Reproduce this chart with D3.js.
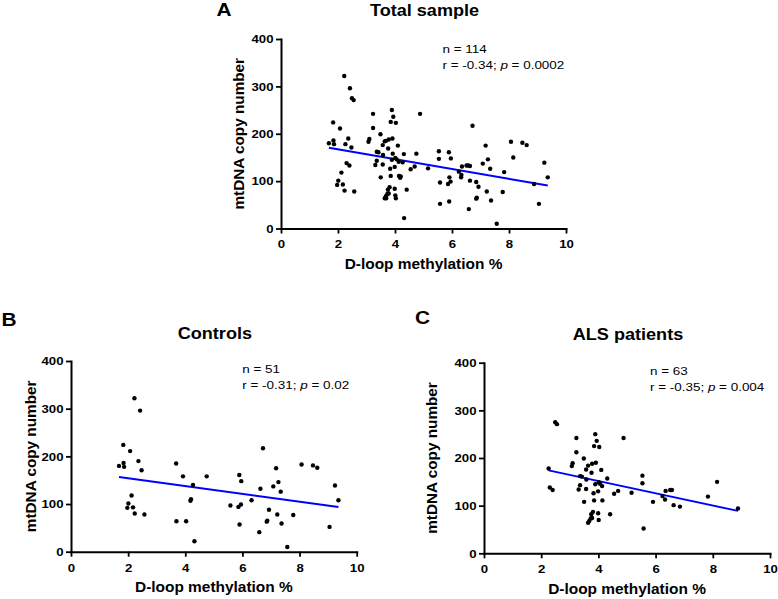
<!DOCTYPE html>
<html>
<head>
<meta charset="utf-8">
<script src="https://cdn.jsdelivr.net/npm/d3@7"></script>
<style>
  html, body { margin: 0; padding: 0; background: #fff; }
  svg { display: block; }
  text { font-family: "Liberation Sans", Arial, Helvetica, sans-serif; fill: #000; }
</style>
</head>
<body>
<script>
// ---------- DATA ----------
// Controls: [D-loop methylation %, mtDNA copy number]
const controls = [
  [1.68,180],[1.83,224],[1.84,186],[1.86,178],[2.07,211],[2.22,322],[2.42,296],[2.36,190],
  [2.47,171],[2.12,118],[2.01,101],[1.97,92],[2.17,93],[2.23,80],[2.57,78],[3.68,185],
  [3.92,158],[4.75,158],[4.27,140],[4.20,110],[4.18,107],[3.69,64],[4.03,64],[4.32,22],
  [5.58,97],[6.72,217],[5.89,161],[5.96,148],[7.18,175],[8.07,183],[8.47,181],[8.62,176],
  [7.26,146],[7.08,137],[7.34,126],[6.63,132],[9.24,139],[9.36,108],[6.32,108],[5.86,94],
  [5.95,99],[6.93,88],[7.22,78],[7.78,77],[6.87,65],[6.85,63],[7.37,59],[5.90,57],
  [6.59,41],[9.05,52],[7.57,10]
];
// ALS patients
const als = [
  [2.26,178],[2.30,138],[2.40,133],[2.49,275],[2.55,271],[3.23,242],[3.89,250],[3.94,236],
  [3.85,225],[4.03,223],[4.88,242],[3.23,212],[3.49,199],[3.10,189],[3.07,183],[3.64,184],
  [3.78,188],[3.91,190],[3.76,169],[4.10,175],[3.57,176],[3.36,162],[3.42,161],[3.58,155],
  [4.06,146],[4.13,141],[4.31,157],[3.89,145],[4.01,149],[3.36,143],[3.31,134],[3.57,135],
  [3.99,130],[3.83,126],[4.69,131],[4.55,125],[4.14,111],[3.85,111],[3.50,108],[4.41,82],
  [3.99,84],[3.81,87],[3.75,82],[4.01,70],[3.73,73],[3.68,68],[3.64,64],[3.78,74],
  [5.16,127],[5.54,163],[5.54,147],[5.58,52],[5.91,108],[6.24,120],[6.33,113],[6.35,131],
  [6.51,133],[6.57,133],[6.63,101],[6.85,98],[7.83,119],[8.15,150],[8.88,94]
];
// Total sample = controls + ALS patients
const total = controls.concat(als);

// Regression lines: [slope, intercept]
const fitTotal = [-10.34, 187.6];
const fitControls = [-8.21, 170.6];
const fitALS = [-12.83, 203.0];

const panelLetters = ["A", "B", "C"];
const titles = ["Total sample", "Controls", "ALS patients"];
const nLabels = ["114", "51", "63"];
const rLabels = ["-0.34", "-0.31", "-0.35"];
const pLabels = ["0.0002", "0.02", "0.004"];
const xTicks = [0, 2, 4, 6, 8, 10];
const yTicks = [0, 100, 200, 300, 400];
const xLabel = "D-loop methylation %";
const yLabel = "mtDNA copy number";

// ---------- LAYOUT ----------
const layout = [
  { data: total,    fit: fitTotal,    x0: 281, x1: 566,   y0: 228.5, y1: 39,
    letter: [216.5, 16], titleY: 16,    ann: [442.5, 53, 68.5],  ylabX: 244 },
  { data: controls, fit: fitControls, x0: 71,  x1: 356.7, y0: 551.7, y1: 361,
    letter: [1.5, 325.5], titleY: 338.5, ann: [242.3, 373.3, 388.8], ylabX: 36 },
  { data: als,      fit: fitALS,      x0: 484, x1: 770,   y0: 553.3, y1: 362.7,
    letter: [415, 324],  titleY: 340,   ann: [650, 375, 390.7],  ylabX: 437 }
];

const svg = d3.select("body").append("svg").attr("width", 778).attr("height", 599);

function stext(g, x, y, str, size, weight, sx, anchor) {
  return g.append("text")
    .attr("transform", `translate(${x},${y}) scale(${sx},1)`)
    .attr("text-anchor", anchor || "start")
    .style("font-size", size + "px")
    .style("font-weight", weight)
    .text(str);
}

layout.forEach((p, i) => {
  const g = svg.append("g");
  const x = d3.scaleLinear().domain([0, 10]).range([p.x0, p.x1]);
  const y = d3.scaleLinear().domain([0, 400]).range([p.y0, p.y1]);

  // axes
  const xa = g.append("g").attr("transform", `translate(0,${p.y0})`)
    .call(d3.axisBottom(x).tickValues(xTicks).tickSize(5).tickSizeOuter(0));
  const ya = g.append("g").attr("transform", `translate(${p.x0},0)`)
    .call(d3.axisLeft(y).tickValues(yTicks).tickSize(5).tickSizeOuter(0));

  [xa, ya].forEach(a => {
    a.select(".domain").attr("stroke", "#000").attr("stroke-width", 2).attr("stroke-linecap", "square");
    a.selectAll(".tick line").attr("stroke", "#000").attr("stroke-width", 1.8);
    a.selectAll(".tick text")
      .style("font-size", "11px").style("font-weight", "bold").attr("fill", "#000");
  });
  xa.selectAll(".tick text").attr("y", null).attr("dy", null)
    .attr("transform", "translate(0,19.8) scale(1.2,1)");
  ya.selectAll(".tick text").attr("x", null).attr("dy", null)
    .attr("transform", "translate(-7.5,3.8) scale(1.2,1)");

  // regression line
  const ext = d3.extent(p.data, d => d[0]);
  const line = d3.line().x(d => x(d)).y(d => y(p.fit[0] * d + p.fit[1]));
  g.append("path").datum(ext).attr("d", line)
    .attr("fill", "none").attr("stroke", "#0000ff").attr("stroke-width", 2);

  // points
  g.selectAll("circle.pt").data(p.data).enter().append("circle")
    .attr("class", "pt")
    .attr("cx", d => x(d[0])).attr("cy", d => y(d[1])).attr("r", 2.2)
    .attr("fill", "#000");

  // panel letter & title
  stext(g, p.letter[0], p.letter[1], panelLetters[i], 18.5, "bold", 1.13, "start");
  stext(g, (p.x0 + p.x1) / 2 + 1, p.titleY, titles[i], 16, "bold", 1.13, "middle");

  // axis titles
  stext(g, (p.x0 + p.x1) / 2, p.y0 + 40.5, xLabel, 14.5, "bold", 1.065, "middle");
  g.append("text")
    .attr("transform", `translate(${p.ylabX},${(p.y0 + p.y1) / 2}) rotate(-90)`)
    .attr("text-anchor", "middle")
    .style("font-size", "15.3px").style("font-weight", "bold")
    .text(yLabel);

  // annotation
  stext(g, p.ann[0], p.ann[1], "n = " + nLabels[i], 11.5, "normal", 1.17, "start");
  const t2 = stext(g, p.ann[0], p.ann[2], "", 11.5, "normal", 1.17, "start");
  t2.append("tspan").text("r = " + rLabels[i] + "; ");
  t2.append("tspan").style("font-style", "italic").text("p");
  t2.append("tspan").text(" = " + pLabels[i]);
});
</script>
</body>
</html>
